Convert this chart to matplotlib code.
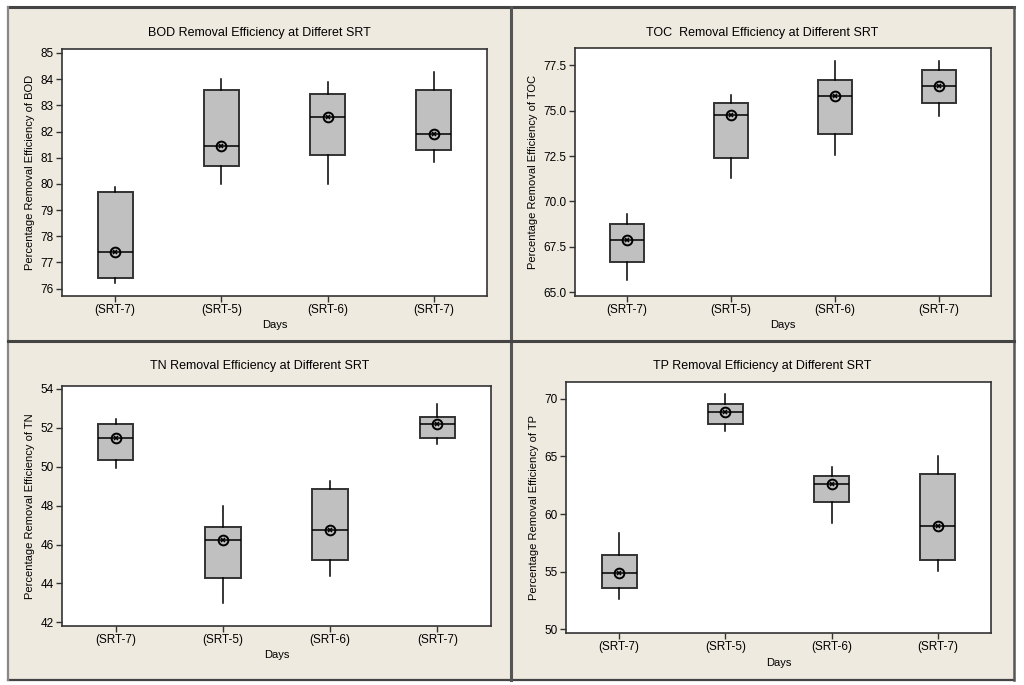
"""Four-panel box plots of removal efficiency at different SRT."""

import matplotlib

matplotlib.use("Agg")
import matplotlib.pyplot as plt
from matplotlib.patches import Rectangle
from matplotlib.lines import Line2D

plt.rcParams["font.family"] = ["Liberation Sans", "DejaVu Sans"]

categories = ["(SRT-7)", "(SRT-5)", "(SRT-6)", "(SRT-7)"]

# (whisker low, Q1, median, Q3, whisker high), mean == median marker
bod_stats = [
    (76.20, 76.40, 77.39, 79.70, 79.88),
    (80.01, 80.68, 81.44, 83.60, 83.99),
    (80.01, 81.10, 82.57, 83.42, 83.88),
    (80.82, 81.30, 81.91, 83.60, 84.27),
]
bod_means = [77.39, 81.44, 82.57, 81.91]

toc_stats = [
    (65.68, 66.66, 67.89, 68.76, 69.31),
    (71.31, 72.37, 74.77, 75.44, 75.86),
    (72.56, 73.70, 75.79, 76.69, 77.72),
    (74.72, 75.45, 76.36, 77.22, 77.76),
]
toc_means = [67.89, 74.77, 75.79, 76.36]

tn_stats = [
    (49.95, 50.33, 51.46, 52.22, 52.46),
    (42.99, 44.28, 46.22, 46.92, 48.00),
    (44.40, 45.22, 46.75, 48.87, 49.27),
    (51.17, 51.50, 52.18, 52.58, 53.25),
]
tn_means = [51.46, 46.22, 46.75, 52.18]

tp_stats = [
    (52.67, 53.57, 54.90, 56.46, 58.32),
    (67.22, 67.80, 68.87, 69.51, 70.43),
    (59.22, 61.07, 62.64, 63.30, 64.09),
    (55.04, 55.97, 58.93, 63.45, 64.99),
]
tp_means = [54.90, 68.87, 62.64, 58.93]

BG = "#EEEADF"
EDGE = "#333333"

W, H = 1024, 685
fig = plt.figure(figsize=(W / 100, H / 100), dpi=100)
fig.patch.set_facecolor("white")


def fx(px):
    return px / W


def fy(py):
    return 1 - py / H


# panel background and separating frame lines
fig.add_artist(Rectangle((fx(8), fy(680)), fx(1014) - fx(8), fy(7) - fy(680),
                         transform=fig.transFigure, facecolor=BG, edgecolor="none",
                         zorder=-10))
frame = [
    ((8, 1014), (7, 7), "#444444", 2.2),
    ((8, 1014), (680, 680), "#444444", 1.6),
    ((8, 8), (7, 680), "#888888", 1.6),
    ((1014, 1014), (7, 680), "#555555", 1.8),
    ((511, 511), (7, 680), "#555555", 2.2),
    ((8, 1014), (341, 341), "#444444", 2.2),
]
for xs, ys, col, lw in frame:
    fig.add_artist(Line2D([fx(x) for x in xs], [fy(y) for y in ys],
                          transform=fig.transFigure, color=col, lw=lw, zorder=-5))

panels = [
    # title, stats, means, ylabel, axes px (left, top, right, bottom), ylim, ticks, fmt, title y, panel center
    ("BOD Removal Efficiency at Differet SRT", bod_stats, bod_means, "BOD",
     (62, 49, 487, 296), (75.72, 85.15), list(range(76, 86)), "{:.0f}", 33, 259.5),
    ("TOC  Removal Efficiency at Different SRT", toc_stats, toc_means, "TOC",
     (575, 48, 991, 296), (64.78, 78.46), [65.0, 67.5, 70.0, 72.5, 75.0, 77.5], "{:.1f}", 33, 762.5),
    ("TN Removal Efficiency at Different SRT", tn_stats, tn_means, "TN",
     (62, 386, 491, 626), (41.81, 54.15), list(range(42, 55, 2)), "{:.0f}", 366, 259.5),
    ("TP Removal Efficiency at Different SRT", tp_stats, tp_means, "TP",
     (566, 382, 991, 633), (49.68, 71.45), [50, 55, 60, 65, 70], "{:.0f}", 366, 762.5),
]

for title, stats, means, name, (l, t, r, b), ylim, ticks, fmt, ty, cx in panels:
    ax = fig.add_axes([fx(l), fy(b), (r - l) / W, (b - t) / H])
    ax.set_facecolor("white")
    bxp_stats = [
        {"whislo": lo, "q1": q1, "med": med, "q3": q3, "whishi": hi,
         "mean": mu, "fliers": []}
        for (lo, q1, med, q3, hi), mu in zip(stats, means)
    ]
    ax.bxp(
        bxp_stats, positions=[1, 2, 3, 4], widths=0.33, patch_artist=True,
        showcaps=False, showmeans=True,
        boxprops=dict(facecolor="#C0C0C0", edgecolor=EDGE, linewidth=1.4),
        medianprops=dict(color="black", linewidth=1.1),
        whiskerprops=dict(color="black", linewidth=1.1),
        meanprops=dict(marker="o", markerfacecolor="none", markeredgecolor="black",
                       markersize=7, markeredgewidth=1.4),
    )
    ax.plot([1, 2, 3, 4], means, linestyle="none", marker="x", color="black",
            markersize=3.5, markeredgewidth=1.1)
    ax.set_xlim(0.5, 4.5)
    ax.set_ylim(*ylim)
    ax.set_xticks([1, 2, 3, 4])
    ax.set_xticklabels(categories)
    ax.set_yticks(ticks)
    ax.set_yticklabels([fmt.format(v) for v in ticks])
    for s in ax.spines.values():
        s.set_color(EDGE)
        s.set_linewidth(1.2)
    ax.tick_params(axis="both", length=4, width=1.0, color=EDGE, labelsize=8.5,
                   pad=2, labelcolor="black")
    ax.set_xlabel("Days", fontsize=8, labelpad=3)
    ax.set_ylabel(f"Percentage Removal Efficiency of {name}", fontsize=8, labelpad=4)
    fig.text(fx(cx), fy(ty), title, ha="center", va="center", fontsize=9)

fig.savefig("out.png", dpi=100, facecolor=fig.get_facecolor())
